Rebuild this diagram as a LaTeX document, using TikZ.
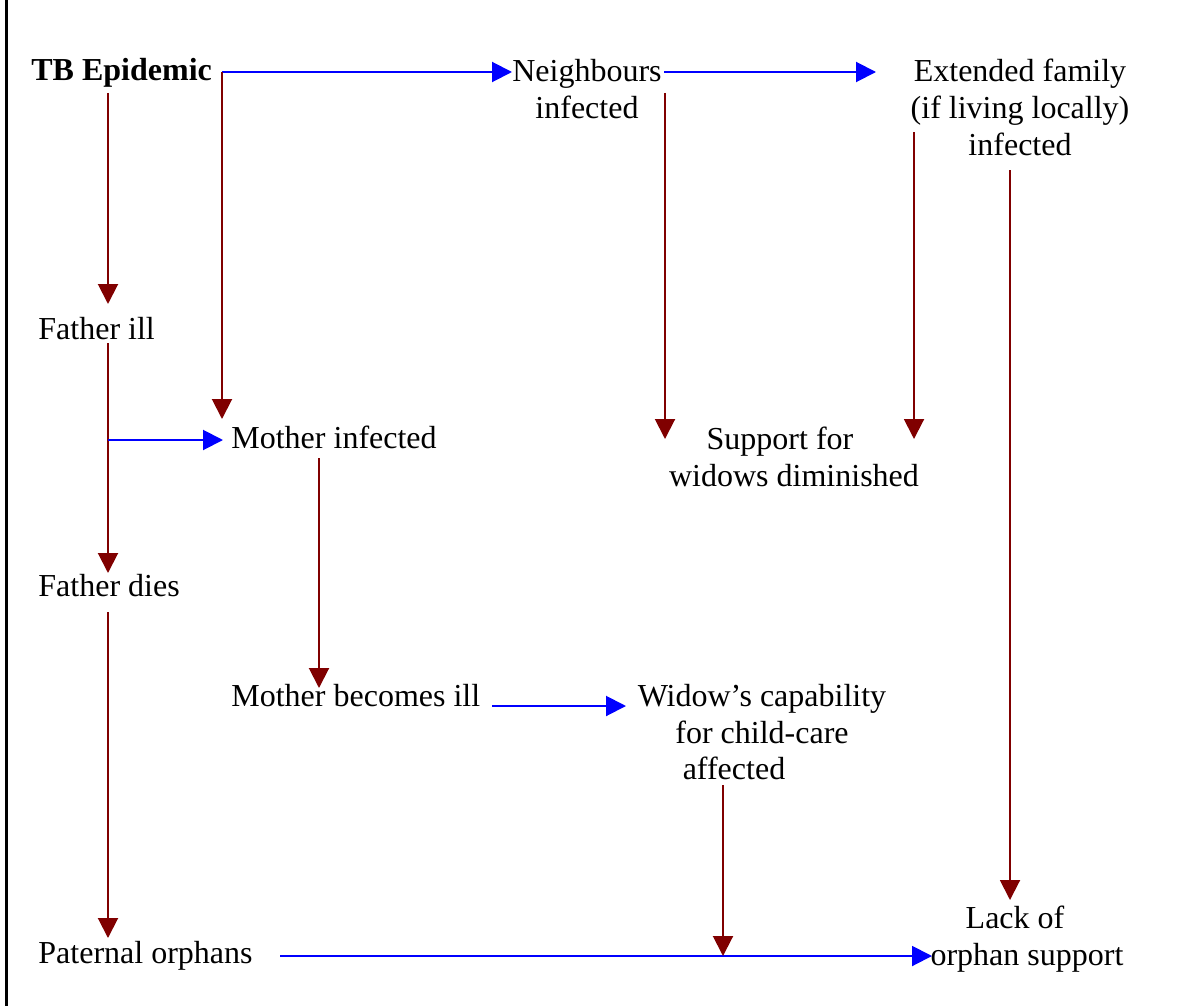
\documentclass[tikz,border=0pt]{standalone}
\usepackage{fontspec}
\setmainfont{Liberation Serif}
\usetikzlibrary{arrows.meta}
\definecolor{darkRed}{RGB}{128,0,0}

\begin{document}
\begin{tikzpicture}[x=0.5pt, y=-0.5pt, font=\fontsize{16}{18.3}\selectfont]
	\tikzstyle{textStyle}=[inner sep = 0pt, anchor = base west]
	\tikzstyle{blockStyle}=[inner sep = 0pt, anchor = north, align = center]
	\tikzstyle{causeStyle}=[draw = darkRed, line width = 1pt, -{Triangle[length = 10pt, width = 10pt]}]
	\tikzstyle{spreadStyle}=[draw = blue, line width = 1pt, -{Triangle[length = 10pt, width = 10pt]}]
	\useasboundingbox (0, 0) rectangle (1182, 1006);
	\draw[line width = 1.5pt] (6.5, 0) -- (6.5, 1006);
	\node[textStyle] (tb) at (31, 81) {\bfseries TB Epidemic};
	\node[textStyle] (fatherIll) at (38, 339) {Father ill};
	\node[textStyle] (fatherDies) at (38, 596) {Father dies};
	\node[textStyle] (paternal) at (38, 963) {Paternal orphans};
	\node[textStyle] (motherInf) at (231, 448) {Mother infected};
	\node[textStyle] (motherIll) at (231, 706) {Mother becomes ill};
	\node[blockStyle] (neighbours) at (587, 59) {Neighbours\\infected};
	\node[blockStyle] (extended) at (1020, 59) {Extended family\\(if living locally)\\infected};
	\node[blockStyle] (support) at (794, 427) {Support for\hspace*{14pt}\\widows diminished};
	\node[blockStyle] (widow) at (762, 684) {Widow’s capability\\for child-care\\affected\hspace*{28pt}};
	\node[blockStyle] (lack) at (1027, 906) {Lack of\hspace*{12pt}\\orphan support};
	\coordinate (tbCorner) at ([shift = {(191, -9)}]tb.base west);
	\coordinate (illBranch) at ([shift = {(70, 101)}]fatherIll.base west);
	\coordinate (widowJoin) at ([shift = {(685, -7)}]paternal.base west);
	%\draw (tb) -- (fatherIll);
	\draw[spreadStyle] (tbCorner) -- ([shift = {(-75, 13)}]neighbours.north);
	\draw[spreadStyle] ([shift = {(77, 13)}]neighbours.north) -- ([shift = {(-144, 13)}]extended.north);
	\draw[causeStyle] (tbCorner) -- ([shift = {(-9, -29)}]motherInf.base west);
	\draw[causeStyle] ([shift = {(77, 12)}]tb.base west) -- ([shift = {(70, -35)}]fatherIll.base west);
	\draw[causeStyle] ([shift = {(70, 4)}]fatherIll.base west) -- ([shift = {(70, -23)}]fatherDies.base west);
	\draw[spreadStyle] (illBranch) -- ([shift = {(-8, -8)}]motherInf.base west);
	\draw[causeStyle] ([shift = {(70, 16)}]fatherDies.base west) -- ([shift = {(70, -25)}]paternal.base west);
	\draw[causeStyle] ([shift = {(88, 10)}]motherInf.base west) -- ([shift = {(88, -18)}]motherIll.base west);
	\draw[spreadStyle] ([shift = {(261, 0)}]motherIll.base west) -- ([shift = {(-136, 22)}]widow.north);
	\draw[causeStyle] ([shift = {(78, 34)}]neighbours.north) -- ([shift = {(-129, 12)}]support.north);
	\draw[causeStyle] ([shift = {(-106, 73)}]extended.north) -- ([shift = {(120, 12)}]support.north);
	\draw[causeStyle] ([shift = {(-10, 111)}]extended.north) -- ([shift = {(-17, -6)}]lack.north);
	\draw[spreadStyle] ([shift = {(242, -7)}]paternal.base west) -- ([shift = {(-95, 50)}]lack.north);
	\draw[causeStyle] ([shift = {(-39, 101)}]widow.north) -- (widowJoin);
\end{tikzpicture}
\end{document}
